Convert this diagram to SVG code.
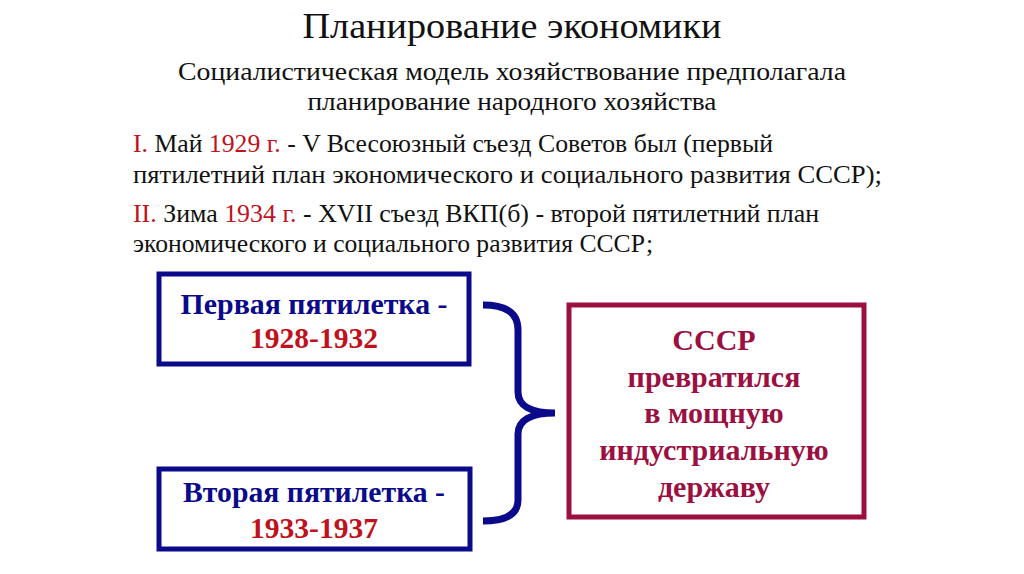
<svg xmlns="http://www.w3.org/2000/svg" width="1024" height="574" viewBox="0 0 1024 574">
<style>
.t{font-family:"Liberation Serif","Times New Roman",serif;fill:#111}
.r{fill:#c0121c}
.bl{font-family:"Liberation Serif",serif;font-weight:bold;font-size:30px;text-anchor:middle}
.navy{fill:#0a0a8a}
.red{fill:#c0121c}
.mr{font-family:"Liberation Serif",serif;font-weight:bold;font-size:30px;text-anchor:middle;fill:#9b1040}
</style>
<rect width="1024" height="574" fill="#fff"/>
<g id="title" class="t">
<text x="512" y="38" font-size="35" text-anchor="middle" textLength="419" lengthAdjust="spacingAndGlyphs">Планирование экономики</text>
<text x="512" y="80" font-size="26" text-anchor="middle" textLength="668" lengthAdjust="spacingAndGlyphs">Социалистическая модель хозяйствование предполагала</text>
<text x="512" y="110" font-size="26" text-anchor="middle" textLength="409" lengthAdjust="spacingAndGlyphs">планирование народного хозяйства</text>
</g>
<g id="body" class="t" font-size="25">
<text x="133" y="152" textLength="640" lengthAdjust="spacingAndGlyphs"><tspan class="r">I.</tspan> Май <tspan class="r">1929 г.</tspan> - V Всесоюзный съезд Советов был (первый</text>
<text x="133" y="183" textLength="749" lengthAdjust="spacingAndGlyphs">пятилетний план экономического и социального развития СССР);</text>
<text x="133" y="222" textLength="686" lengthAdjust="spacingAndGlyphs"><tspan class="r">II.</tspan> Зима <tspan class="r">1934 г.</tspan>  - XVII съезд ВКП(б) - второй пятилетний план</text>
<text x="133" y="252" textLength="520" lengthAdjust="spacingAndGlyphs">экономического и социального развития СССР;</text>
</g>
<g id="box1">
<rect x="159" y="274" width="310" height="90" fill="#fff" stroke="#0a0a8a" stroke-width="5"/>
<text class="bl navy" x="314" y="314" textLength="267" lengthAdjust="spacingAndGlyphs">Первая пятилетка -</text>
<text class="bl red" x="314" y="348" textLength="128" lengthAdjust="spacingAndGlyphs">1928-1932</text>
</g>
<g id="box2">
<rect x="159" y="469" width="311" height="80" fill="#fff" stroke="#0a0a8a" stroke-width="5"/>
<text class="bl navy" x="314" y="502" textLength="262" lengthAdjust="spacingAndGlyphs">Вторая пятилетка -</text>
<text class="bl red" x="314" y="538" textLength="128" lengthAdjust="spacingAndGlyphs">1933-1937</text>
</g>
<g id="connectors">
<path d="M483 305 C505 305 518 312 518 330 L518 392 C518 405 530 413 555 413 C530 413 518 421 518 434 L518 500 C518 515 505 521 483 521" fill="none" stroke="#0a0a8a" stroke-width="7" stroke-linecap="butt"/>
</g>
<g id="result">
<rect x="569" y="305" width="295" height="212" fill="#fff" stroke="#9b1040" stroke-width="5"/>
<text class="mr" x="714" y="350">СССР</text>
<text class="mr" x="714" y="387">превратился</text>
<text class="mr" x="714" y="423">в мощную</text>
<text class="mr" x="714" y="460">индустриальную</text>
<text class="mr" x="714" y="497">державу</text>
</g>
</svg>
